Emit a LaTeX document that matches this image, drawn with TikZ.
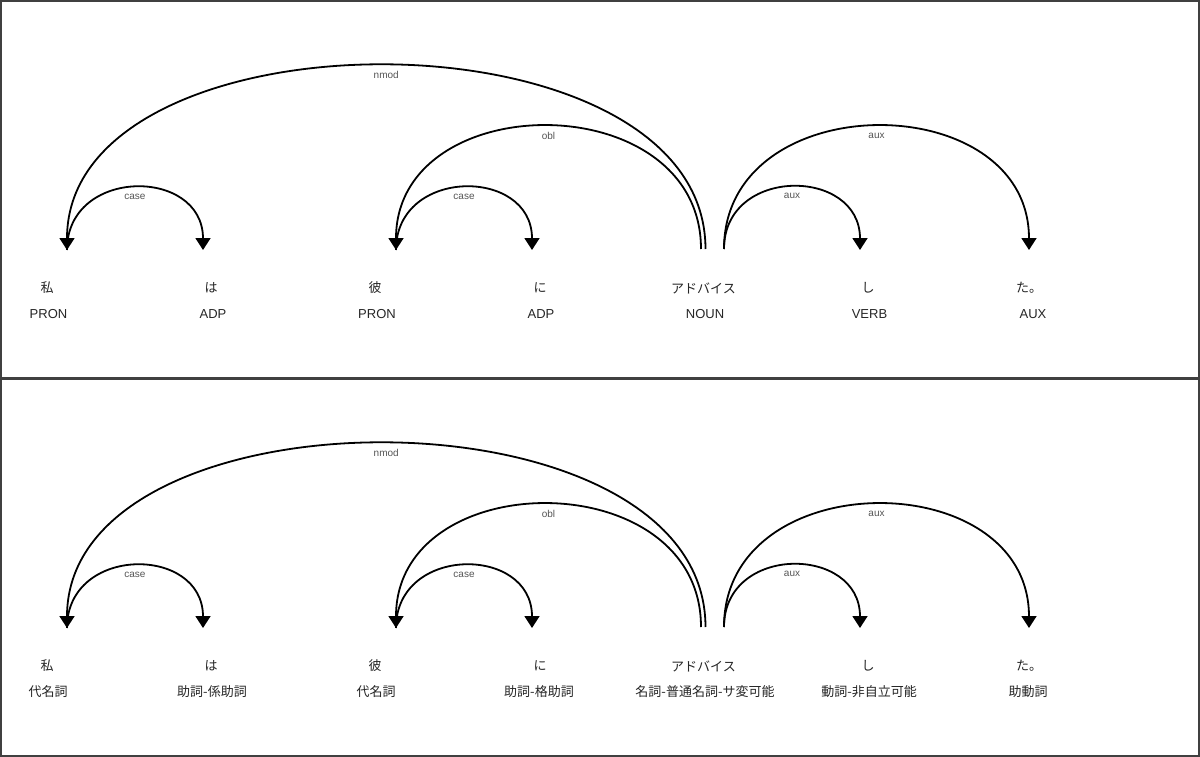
\documentclass[tikz,border=0pt]{standalone}
\usepackage{fontspec}
\setmainfont{Liberation Sans}
\newfontfamily\jp{Noto Sans CJK JP}
\usetikzlibrary{arrows.meta}
\definecolor{framec}{HTML}{404040}
\definecolor{lblc}{HTML}{555555}
\definecolor{txtc}{HTML}{262626}
\tikzset{
  word/.style={font=\jp\fontsize{13}{15}\selectfont, text=txtc, inner sep=0pt},
  tag/.style={font=\fontsize{13}{15}\selectfont, text=txtc, inner sep=0pt},
  jtag/.style={font=\jp\fontsize{13}{15}\selectfont, text=txtc, inner sep=0pt},
  dep/.style={line width=1.8pt, -{Triangle[length=12pt,width=15pt]}},
  deplabel/.style={font=\fontsize{10}{12}\selectfont, text=lblc, inner sep=0pt},
  panelframe/.style={draw=framec, line width=2pt},
  divider/.style={draw=framec, line width=3pt}
}
\newcommand\deparc[4]{%
  \draw[dep] (#1) .. controls +(0,-#3) and +(0,-#3) .. (#2)
    node[deplabel, pos=0.5, yshift=-9pt]{#4};
}
\newcommand\arcset{%
  \coordinate (h1) at (67,250);
  \coordinate (h2) at (203,250);
  \coordinate (h3) at (396,250);
  \coordinate (h4) at (532,250);
  \coordinate (n1) at (701,249);
  \coordinate (n2) at (705.5,249);
  \coordinate (n3) at (724,249);
  \coordinate (h6) at (860,250);
  \coordinate (h7) at (1029,250);
  \deparc{n2}{h1}{245}{nmod}
  \deparc{n1}{h3}{164}{obl}
  \deparc{h1}{h2}{83}{case}
  \deparc{h3}{h4}{83}{case}
  \deparc{n3}{h6}{83}{aux}
  \deparc{n3}{h7}{164}{aux}
  \node[word] (w1) at (47,288) {私};
  \node[word] (w2) at (211,288) {は};
  \node[word] (w3) at (375,288) {彼};
  \node[word] (w4) at (540,288) {に};
  \node[word] (w5) at (703.5,288) {アドバイス};
  \node[word] (w6) at (868,288) {し};
  \node[word] (w7) at (1029,288) {た。};
}
\begin{document}
\begin{tikzpicture}[x=1pt,y=-1pt]
\useasboundingbox (0,0) rectangle (1200,757);
\fill[white] (0,0) rectangle (1200,757);
\begin{scope}[name prefix=top-]
  \arcset
  \node[tag] (t1) at (48.5,314) {PRON};
  \node[tag] (t2) at (213,314) {ADP};
  \node[tag] (t3) at (377,314) {PRON};
  \node[tag] (t4) at (541,314) {ADP};
  \node[tag] (t5) at (705,314) {NOUN};
  \node[tag] (t6) at (869.5,314) {VERB};
  \node[tag] (t7) at (1033,314) {AUX};
\end{scope}
\begin{scope}[name prefix=bot-, yshift=-378pt]
  \arcset
  \node[jtag] (t1) at (48,314) {代名詞};
  \node[jtag] (t2) at (212,314) {助詞-係助詞};
  \node[jtag] (t3) at (376,314) {代名詞};
  \node[jtag] (t4) at (539,314) {助詞-格助詞};
  \node[jtag] (t5) at (705,314) {名詞-普通名詞-サ変可能};
  \node[jtag] (t6) at (869,314) {動詞-非自立可能};
  \node[jtag] (t7) at (1028,314) {助動詞};
\end{scope}
\draw[panelframe] (1,1) rectangle (1199,756);
\draw[divider] (0,378.5) -- (1200,378.5);
\end{tikzpicture}
\end{document}
